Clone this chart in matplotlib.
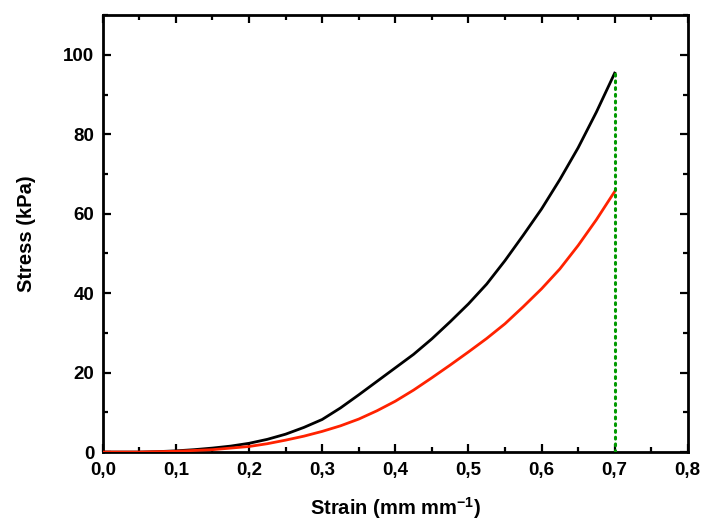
import numpy as np
import matplotlib
matplotlib.use("Agg")
import matplotlib.pyplot as plt
from matplotlib.ticker import MultipleLocator, FuncFormatter

# values
strain = [0.0, 0.025, 0.05, 0.075, 0.1, 0.125, 0.15, 0.175, 0.2, 0.225, 0.25, 0.275, 0.3, 0.325,
          0.35, 0.375, 0.4, 0.425, 0.45, 0.475, 0.5, 0.525, 0.55, 0.575, 0.6, 0.625, 0.65, 0.675, 0.7]
stress_black = [0.0, 0.0, 0.0, 0.1, 0.3, 0.6, 1.0, 1.5, 2.2, 3.2, 4.5, 6.2, 8.2, 11.1,
                14.4, 17.8, 21.2, 24.6, 28.5, 32.8, 37.3, 42.3, 48.2, 54.6, 61.2, 68.6, 76.6, 85.6, 95.4]
stress_red = [0.0, 0.0, 0.0, 0.1, 0.2, 0.4, 0.6, 1.0, 1.4, 2.1, 3.0, 4.0, 5.2, 6.6,
              8.3, 10.4, 12.8, 15.6, 18.7, 21.9, 25.2, 28.6, 32.3, 36.6, 41.1, 46.1, 52.0, 58.5, 65.6]

cut_strain = 0.7
cut_stress = 95.4

plt.rcParams['font.family'] = ['Liberation Sans', 'DejaVu Sans']
plt.rcParams['font.weight'] = 'bold'
plt.rcParams['mathtext.fontset'] = 'custom'
plt.rcParams['mathtext.bf'] = 'Liberation Sans:bold'
plt.rcParams['mathtext.rm'] = 'Liberation Sans:bold'

fig = plt.figure(figsize=(7.04, 5.22), dpi=100)
ax = fig.add_axes([0.146, 0.134, 0.831, 0.837])

ax.plot(strain, stress_black, color='black', lw=2.0, zorder=3, solid_joinstyle='round')
ax.plot(strain, stress_red, color='#ff2200', lw=2.0, zorder=3, solid_joinstyle='round')
ax.plot([cut_strain, cut_strain], [0, cut_stress], color='#009900', lw=2.2,
        linestyle=(0, (0.6, 1.6)), dash_capstyle='round', zorder=4)

ax.set_xlim(0, 0.8)
ax.set_ylim(0, 110)

ax.xaxis.set_major_locator(MultipleLocator(0.1))
ax.xaxis.set_minor_locator(MultipleLocator(0.05))
ax.yaxis.set_major_locator(MultipleLocator(20))
ax.yaxis.set_minor_locator(MultipleLocator(10))
ax.xaxis.set_major_formatter(FuncFormatter(lambda v, p: f"{v:.1f}".replace('.', ',')))
ax.yaxis.set_major_formatter(FuncFormatter(lambda v, p: f"{v:.0f}"))

for s in ax.spines.values():
    s.set_linewidth(2.0)
ax.tick_params(which='both', direction='in', top=True, right=True, width=1.6)
ax.tick_params(which='major', length=6, labelsize=13.5, pad=6)
ax.tick_params(which='minor', length=3.5)
ax.tick_params(axis='x', which='major', pad=7)

ax.set_xlabel('Strain (mm mm$^{\\mathrm{-1}}$)', fontsize=14.5, fontweight='bold', labelpad=12)
ax.set_ylabel('Stress (kPa)', fontsize=14.5, fontweight='bold', labelpad=20)

fig.savefig('out.png', dpi=100)
